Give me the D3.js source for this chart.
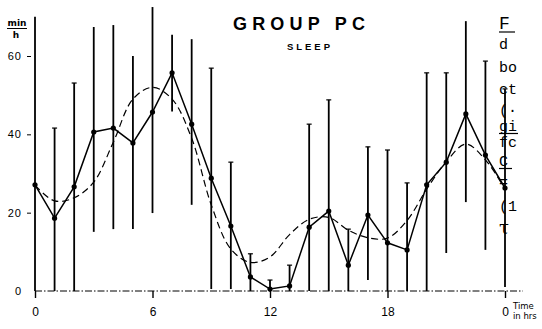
<!DOCTYPE html>
<html>
<head>
<meta charset="utf-8">
<script src="https://cdn.jsdelivr.net/npm/d3@7"></script>
<style>
  body { margin: 0; background: #fff; }
  svg { display: block; }
</style>
</head>
<body>
<svg id="chart"></svg>
<script>
// hourly sleep (min/h), group PC
const hours = [0, 1, 2, 3, 4, 5, 6, 7, 8, 9, 10, 11, 12, 13, 14, 15, 16, 17, 18, 19, 20, 21, 22, 23, 24];
const meanSleep = [27.1, 18.6, 26.6, 40.6, 41.6, 37.8, 45.7, 55.7, 42.6, 28.8, 16.6, 3.6, 0.5, 1.3, 16.3, 20.4, 6.6, 19.4, 12.3, 10.5, 27.1, 32.9, 45.2, 34.7, 26.3];
const upperBar = [70, 41.6, 53.1, 67.4, 67.9, 60, 72.5, 65.4, 64.3, 56.9, 32.9, 9.5, 2.8, 6.6, 42.6, 48.8, 15.8, 36.8, 36, 27.6, 55.7, 55.7, 68.9, 58.7, 51.6];
const lowerBar = [0, 0, 0, 15.1, 15.8, 15.8, 19.9, 45.8, 22, 0.5, 0.5, 0, 0, 0, 0, 0, 0, 2.8, 0, 0, 0, 9.7, 22.7, 10.5, 1];
// fitted curve (dashed)
const fitSleep = [27, 23, 23.8, 27.8, 38, 49, 52, 49, 39, 22, 10.7, 7.3, 8.7, 14.4, 18.3, 18.8, 15.5, 13.6, 13.5, 18, 26, 33, 37.5, 33.5, 26];
const xTicks = [0, 6, 12, 18, 24];
const yTicks = [0, 20, 40, 60];
// clipped text column from the facing page
const sideText = ["F", "d", "bo", "ct", "(\u00b7", "gi", "fc", "C", "=", "(1", "\u03c4"];

const width = 542;
const height = 329;

const svg = d3.select('#chart')
    .attr('width', width)
    .attr('height', height)
    .style('font-family', '"DejaVu Sans", sans-serif');

const x = d3.scaleLinear().domain([0, 24]).range([35, 505]);
const y = d3.scaleLinear().domain([0, 60]).range([291, 56]);

// x axis: dash-dot baseline with ticks every 6 h
const xAxis = d3.axisBottom(x)
    .tickValues(xTicks)
    .tickFormat(d => d % 24)
    .tickSize(7)
    .tickSizeOuter(0)
    .tickPadding(9);

const gx = svg.append('g')
    .attr('transform', `translate(0,${y(0)})`)
    .call(xAxis);
gx.select('.domain').remove();
gx.selectAll('line').attr('stroke', '#000').attr('stroke-width', 1.4);
gx.selectAll('text').attr('font-size', 12).attr('fill', '#000');
gx.append('line')
    .attr('x1', x(0)).attr('x2', 523)
    .attr('stroke', '#000')
    .attr('stroke-width', 1)
    .attr('stroke-dasharray', '7,2,1.5,2');

const yAxis = d3.axisLeft(y)
    .tickValues(yTicks)
    .tickSize(4)
    .tickPadding(5);

const gy = svg.append('g')
    .attr('transform', 'translate(31,0)')
    .call(yAxis);
gy.select('.domain').remove();
gy.selectAll('line').attr('stroke', '#000').attr('stroke-width', 1).filter(d => d === 0).remove();
gy.selectAll('text').attr('font-size', 11).attr('letter-spacing', 1).attr('fill', '#000');

// unit label min/h
svg.append('text').attr('x', 17).attr('y', 26).attr('text-anchor', 'middle')
    .attr('font-size', 9).attr('font-weight', 'bold').text('min');
svg.append('line').attr('x1', 7).attr('x2', 27).attr('y1', 28.5).attr('y2', 28.5)
    .attr('stroke', '#000').attr('stroke-width', 1);
svg.append('text').attr('x', 16).attr('y', 38).attr('text-anchor', 'middle')
    .attr('font-size', 9).attr('font-weight', 'bold').text('h');

// Time / in hrs
svg.append('text').attr('x', 513).attr('y', 309).attr('font-size', 8.5).text('Time');
svg.append('text').attr('x', 513).attr('y', 319).attr('font-size', 8.5).text('in hrs');

// title
svg.append('text').attr('x', 233).attr('y', 30)
    .attr('font-family', '"Liberation Sans", Arial, sans-serif')
    .attr('font-size', 18).attr('font-weight', 'bold')
    .attr('textLength', 132).attr('lengthAdjust', 'spacing')
    .text('GROUP PC');
svg.append('text').attr('x', 287).attr('y', 50)
    .attr('font-family', '"Liberation Sans", Arial, sans-serif')
    .attr('font-size', 9.5).attr('font-weight', 'bold')
    .attr('textLength', 43).attr('lengthAdjust', 'spacing')
    .text('SLEEP');

const points = hours.map((h, i) => ({
    hour: h,
    mean: meanSleep[i],
    hi: upperBar[i],
    lo: lowerBar[i],
    fit: fitSleep[i],
}));

// error bars
const bars = svg.append('g').attr('stroke', '#000').attr('stroke-width', 1.8);
bars.selectAll('line.bar')
    .data(points)
    .join('line')
    .attr('class', 'bar')
    .attr('x1', d => x(d.hour)).attr('x2', d => x(d.hour))
    .attr('y1', d => y(d.hi)).attr('y2', d => y(d.lo));
bars.selectAll('line.cap')
    .data(points.filter(d => d.hi < 60))
    .join('line')
    .attr('class', 'cap')
    .attr('stroke-width', 1.2)
    .attr('x1', d => x(d.hour) - 2.5).attr('x2', d => x(d.hour) + 2.5)
    .attr('y1', d => y(d.hi)).attr('y2', d => y(d.hi));

// fitted curve
const fitLine = d3.line()
    .x(d => x(d.hour))
    .y(d => y(d.fit))
    .curve(d3.curveCatmullRom);

svg.append('path')
    .datum(points)
    .attr('fill', 'none')
    .attr('stroke', '#000')
    .attr('stroke-width', 1.2)
    .attr('stroke-dasharray', '7,4')
    .attr('d', fitLine);

// mean line
const meanLine = d3.line()
    .x(d => x(d.hour))
    .y(d => y(d.mean));

svg.append('path')
    .datum(points)
    .attr('fill', 'none')
    .attr('stroke', '#000')
    .attr('stroke-width', 1.5)
    .attr('d', meanLine);

svg.append('g')
    .selectAll('circle')
    .data(points)
    .join('circle')
    .attr('cx', d => x(d.hour))
    .attr('cy', d => y(d.mean))
    .attr('r', 2.6)
    .attr('fill', '#000');

// facing-page text, cut off at the right edge
const sideY = [29, 49, 72, 94, 115, 131, 147, 166, 187, 211, 234];
svg.append('g')
    .attr('font-family', '"Liberation Mono", "DejaVu Sans Mono", monospace')
    .attr('font-size', 15)
    .selectAll('text')
    .data(sideText)
    .join('text')
    .attr('x', 499)
    .attr('y', (d, i) => sideY[i])
    .attr('font-size', (d, i) => i === 0 || i === 10 ? 18 : 15)
    .attr('font-family', (d, i) => i === 10 ? '"DejaVu Serif", serif' : null)
    .text(d => d);
[[32, 515], [133.5, 518], [168.5, 512]].forEach(([yy, x2]) => {
    svg.append('line').attr('x1', 499).attr('x2', x2).attr('y1', yy).attr('y2', yy)
        .attr('stroke', '#000').attr('stroke-width', 1.2);
});
</script>
</body>
</html>
